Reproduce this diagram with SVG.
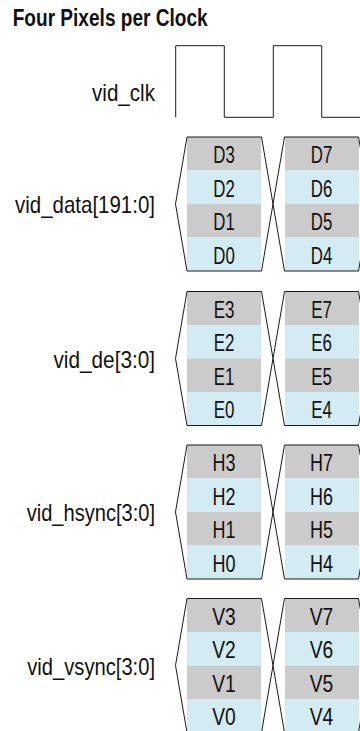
<svg xmlns="http://www.w3.org/2000/svg" xmlns:xlink="http://www.w3.org/1999/xlink" width="360" height="731" viewBox="0 0 360 731">
<style>
.t{font-family:"Liberation Sans",Arial,sans-serif;font-size:24px;fill:#111}
.lbl{text-anchor:end}
.c{text-anchor:middle}
.title{font-family:"Liberation Sans",Arial,sans-serif;font-size:23px;font-weight:bold;fill:#111}
.g{fill:#cbcbcb}
.b{fill:#d3ebf2}
.ol{fill:none;stroke:#1a1a1a;stroke-width:1}
.clk{fill:none;stroke:#1a1a1a;stroke-width:1}
</style>
<defs>
<g id="bus">
<rect class="g" x="187" y="0" width="74" height="33.5"/>
<rect class="b" x="187" y="33.5" width="74" height="33.5"/>
<rect class="g" x="187" y="67" width="74" height="33.5"/>
<rect class="b" x="187" y="100.5" width="74" height="33.5"/>
<rect class="g" x="285" y="0" width="74" height="33.5"/>
<rect class="b" x="285" y="33.5" width="74" height="33.5"/>
<rect class="g" x="285" y="67" width="74" height="33.5"/>
<rect class="b" x="285" y="100.5" width="74" height="33.5"/>
<path class="ol" d="M175.5,67 L187,0 H261.5 L273,67 L261.5,134 H187 Z"/>
<path class="ol" d="M273,67 L284.5,0 H358.5 L370,67 L358.5,134 H284.5 Z"/>
</g>
</defs>
<text class="title" x="12.7" y="26" textLength="195" lengthAdjust="spacingAndGlyphs">Four Pixels per Clock</text>
<g id="sig-clk">
<text class="t lbl" x="155" y="101" textLength="63" lengthAdjust="spacingAndGlyphs">vid_clk</text>
<path class="clk" d="M175.7,117.3 V45.7 H224.3 V117.3 H273.3 V45.7 H321.7 V117.3 H360"/>
</g>
<g id="sig-data" transform="translate(0,137)">
<text class="t lbl" x="155" y="76" textLength="140" lengthAdjust="spacingAndGlyphs">vid_data[191:0]</text>
<use href="#bus" xlink:href="#bus"/>
<g lengthAdjust="spacingAndGlyphs">
<text class="t c" x="224" y="26.2" textLength="21.5" lengthAdjust="spacingAndGlyphs">D3</text><text class="t c" x="224" y="59.7" textLength="21.5" lengthAdjust="spacingAndGlyphs">D2</text><text class="t c" x="224" y="93.2" textLength="21.5" lengthAdjust="spacingAndGlyphs">D1</text><text class="t c" x="224" y="126.7" textLength="21.5" lengthAdjust="spacingAndGlyphs">D0</text>
<text class="t c" x="321.5" y="26.2" textLength="21.5" lengthAdjust="spacingAndGlyphs">D7</text><text class="t c" x="321.5" y="59.7" textLength="21.5" lengthAdjust="spacingAndGlyphs">D6</text><text class="t c" x="321.5" y="93.2" textLength="21.5" lengthAdjust="spacingAndGlyphs">D5</text><text class="t c" x="321.5" y="126.7" textLength="21.5" lengthAdjust="spacingAndGlyphs">D4</text>
</g>
</g>
<g id="sig-de" transform="translate(0,291.5)">
<text class="t lbl" x="155" y="76" textLength="101.5" lengthAdjust="spacingAndGlyphs">vid_de[3:0]</text>
<use href="#bus" xlink:href="#bus"/>
<text class="t c" x="224" y="26.2" textLength="20.7" lengthAdjust="spacingAndGlyphs">E3</text><text class="t c" x="224" y="59.7" textLength="20.7" lengthAdjust="spacingAndGlyphs">E2</text><text class="t c" x="224" y="93.2" textLength="20.7" lengthAdjust="spacingAndGlyphs">E1</text><text class="t c" x="224" y="126.7" textLength="20.7" lengthAdjust="spacingAndGlyphs">E0</text>
<text class="t c" x="321.5" y="26.2" textLength="20.7" lengthAdjust="spacingAndGlyphs">E7</text><text class="t c" x="321.5" y="59.7" textLength="20.7" lengthAdjust="spacingAndGlyphs">E6</text><text class="t c" x="321.5" y="93.2" textLength="20.7" lengthAdjust="spacingAndGlyphs">E5</text><text class="t c" x="321.5" y="126.7" textLength="20.7" lengthAdjust="spacingAndGlyphs">E4</text>
</g>
<g id="sig-hsync" transform="translate(0,445)">
<text class="t lbl" x="155" y="76" textLength="128.3" lengthAdjust="spacingAndGlyphs">vid_hsync[3:0]</text>
<use href="#bus" xlink:href="#bus"/>
<text class="t c" x="224" y="26.2" textLength="23" lengthAdjust="spacingAndGlyphs">H3</text><text class="t c" x="224" y="59.7" textLength="23" lengthAdjust="spacingAndGlyphs">H2</text><text class="t c" x="224" y="93.2" textLength="23" lengthAdjust="spacingAndGlyphs">H1</text><text class="t c" x="224" y="126.7" textLength="23" lengthAdjust="spacingAndGlyphs">H0</text>
<text class="t c" x="321.5" y="26.2" textLength="23" lengthAdjust="spacingAndGlyphs">H7</text><text class="t c" x="321.5" y="59.7" textLength="23" lengthAdjust="spacingAndGlyphs">H6</text><text class="t c" x="321.5" y="93.2" textLength="23" lengthAdjust="spacingAndGlyphs">H5</text><text class="t c" x="321.5" y="126.7" textLength="23" lengthAdjust="spacingAndGlyphs">H4</text>
</g>
<g id="sig-vsync" transform="translate(0,598.5)">
<text class="t lbl" x="155" y="76" textLength="127.7" lengthAdjust="spacingAndGlyphs">vid_vsync[3:0]</text>
<use href="#bus" xlink:href="#bus"/>
<text class="t c" x="224" y="26.2" textLength="23.5" lengthAdjust="spacingAndGlyphs">V3</text><text class="t c" x="224" y="59.7" textLength="23.5" lengthAdjust="spacingAndGlyphs">V2</text><text class="t c" x="224" y="93.2" textLength="23.5" lengthAdjust="spacingAndGlyphs">V1</text><text class="t c" x="224" y="126.7" textLength="23.5" lengthAdjust="spacingAndGlyphs">V0</text>
<text class="t c" x="321.5" y="26.2" textLength="23.5" lengthAdjust="spacingAndGlyphs">V7</text><text class="t c" x="321.5" y="59.7" textLength="23.5" lengthAdjust="spacingAndGlyphs">V6</text><text class="t c" x="321.5" y="93.2" textLength="23.5" lengthAdjust="spacingAndGlyphs">V5</text><text class="t c" x="321.5" y="126.7" textLength="23.5" lengthAdjust="spacingAndGlyphs">V4</text>
</g>
</svg>
